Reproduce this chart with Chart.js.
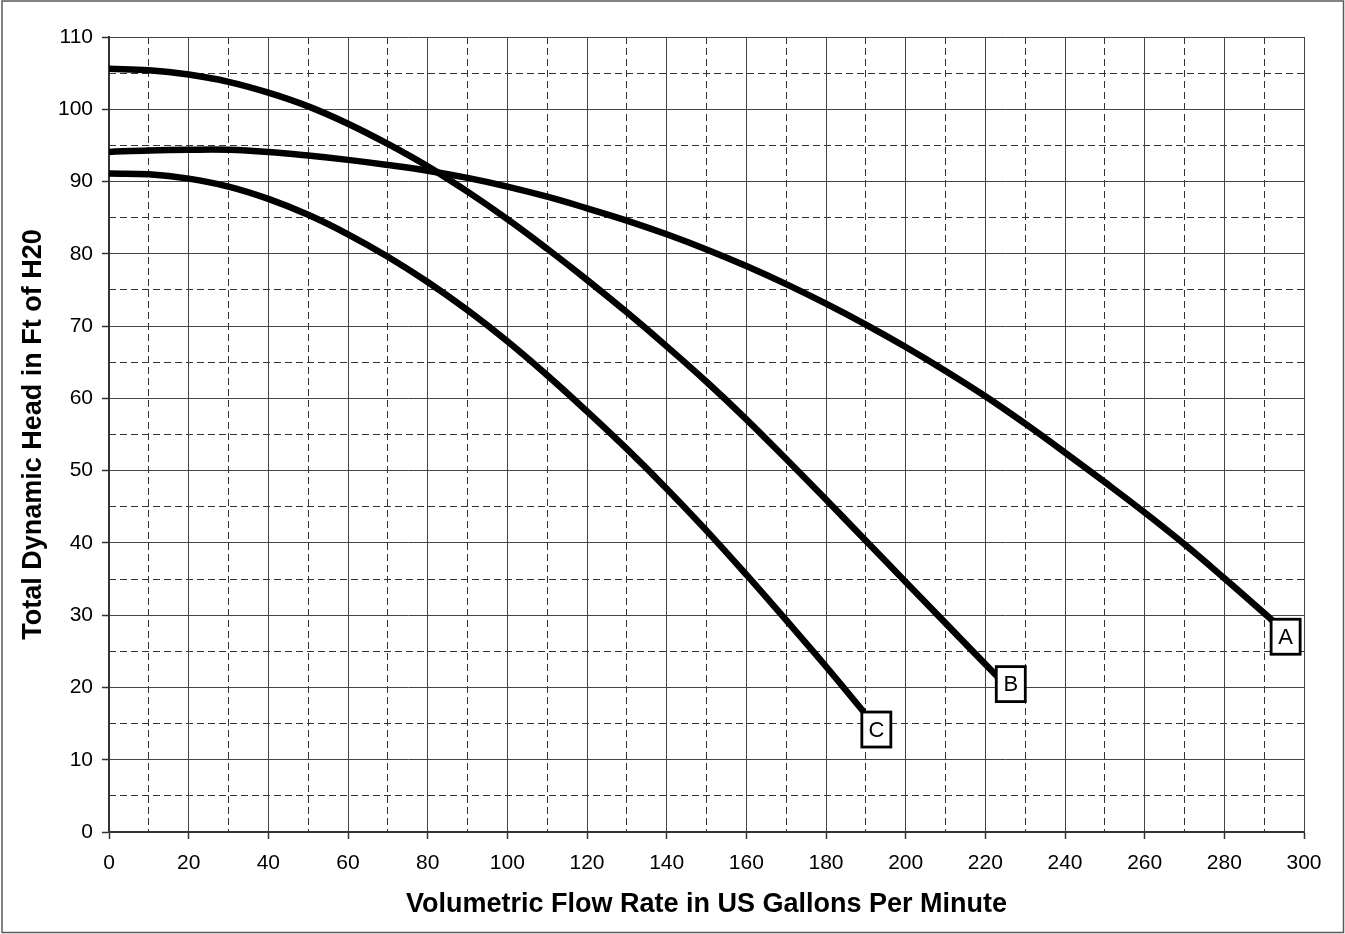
<!DOCTYPE html>
<html>
<head>
<meta charset="utf-8">
<script src="https://cdn.jsdelivr.net/npm/chart.js@4"></script>
<style>
  html, body { margin: 0; padding: 0; background: #fff; }
  #wrap { width: 1345px; height: 934px; position: relative; }
  canvas { display: block; }
</style>
</head>
<body>
<div id="wrap"><canvas id="c" width="1345" height="934"></canvas></div>
<script>
// ---- data ----
const curveNames = ['A', 'B', 'C'];

const flowA = [0,10,20,30,40,50,60,70,80,90,100,110,120,130,140,150,160,170,180,190,200,210,220,230,240,250,260,270,280,292];
const headA = [94.1,94.3,94.4,94.4,94.1,93.6,93.0,92.3,91.5,90.5,89.3,87.9,86.3,84.6,82.7,80.6,78.3,75.8,73.1,70.2,67.1,63.8,60.3,56.5,52.5,48.4,44.2,39.8,35.1,29.3];

const flowB = [0,10,20,30,40,50,60,70,80,90,100,110,120,130,140,150,160,170,180,190,200,210,223];
const headB = [105.6,105.4,104.8,103.8,102.3,100.4,98.0,95.2,92.1,88.6,84.8,80.7,76.4,71.9,67.2,62.3,57.1,51.6,46.0,40.3,34.6,28.9,21.5];

const flowC = [0,10,20,30,40,50,60,70,80,90,100,110,120,130,140,150,160,170,180,189.5];
const headC = [91.1,91.0,90.4,89.3,87.6,85.4,82.7,79.6,76.1,72.2,67.9,63.2,58.2,53.0,47.5,41.7,35.6,29.3,22.9,16.6];

const xTitle = 'Volumetric Flow Rate in US Gallons Per Minute';
const yTitle = 'Total Dynamic Head in Ft of H20';

// ---- chart ----
const FONT = "'Liberation Sans', Arial, Helvetica, sans-serif";
const pairs = (xs, ys) => xs.map((x, i) => ({ x: x, y: ys[i] }));

const series = [pairs(flowA, headA), pairs(flowB, headB), pairs(flowC, headC)];

const labelOffsets = [{dx: -1, dy: -1}, {dx: -1, dy: -10}, {dx: -2, dy: 0}];

const frame = {
  id: 'frame',
  beforeDraw(chart) {
    const ctx = chart.ctx;
    ctx.save();
    ctx.fillStyle = '#fff';
    ctx.fillRect(0, 0, chart.width, chart.height);
    ctx.strokeStyle = '#5a5a5a';
    ctx.lineWidth = 1.5;
    ctx.strokeRect(2, 1, chart.width - 3.5, chart.height - 2.5);
    ctx.restore();
  }
};

const endLabels = {
  id: 'endLabels',
  afterDatasetsDraw(chart) {
    const ctx = chart.ctx;
    ctx.save();
    chart.data.datasets.forEach((ds, i) => {
      const meta = chart.getDatasetMeta(i);
      const p = meta.data[meta.data.length - 1];
      const off = labelOffsets[i];
      const w = 29, h = 35;
      const x = p.x + off.dx, y = p.y + off.dy;
      ctx.fillStyle = '#fff';
      ctx.fillRect(x, y, w, h);
      ctx.strokeStyle = '#000';
      ctx.lineWidth = 2.8;
      ctx.strokeRect(x, y, w, h);
      ctx.fillStyle = '#000';
      ctx.font = '22px ' + FONT;
      ctx.textAlign = 'center';
      ctx.textBaseline = 'middle';
      ctx.fillText(curveNames[i], x + w / 2, y + h / 2 + 1);
    });
    ctx.restore();
  }
};

const minorColorX = (c) => (c.tick && Math.round(c.tick.value) % 20 === 0) ? 'rgba(0,0,0,0)' : '#333';
const minorColorY = (c) => (c.tick && Math.round(c.tick.value) % 10 === 0) ? 'rgba(0,0,0,0)' : '#333';

new Chart(document.getElementById('c'), {
  type: 'line',
  data: {
    datasets: series.map((d, i) => ({
      label: curveNames[i],
      data: d,
      borderColor: '#000',
      borderWidth: 6.5,
      pointRadius: 0,
      fill: false,
      tension: 0.4,
      borderCapStyle: 'butt',
      borderJoinStyle: 'round'
    }))
  },
  options: {
    responsive: false,
    animation: false,
    devicePixelRatio: 1,
    layout: { padding: { top: 37, right: 41, bottom: 0, left: 0 } },
    plugins: { legend: { display: false }, tooltip: { enabled: false } },
    scales: {
      x2: {
        type: 'linear', position: 'top', min: 0, max: 300,
        ticks: { display: false, stepSize: 10 },
        grid: { color: minorColorX, lineWidth: 1, drawTicks: false },
        border: { display: false, dash: [7, 4] },
        afterFit(s) { s.height = 0; }
      },
      y2: {
        type: 'linear', position: 'right', min: 0, max: 110,
        ticks: { display: false, stepSize: 5 },
        grid: { color: minorColorY, lineWidth: 1, drawTicks: false },
        border: { display: false, dash: [7, 4] },
        afterFit(s) { s.width = 0; }
      },
      x: {
        type: 'linear', position: 'bottom', min: 0, max: 300,
        ticks: { stepSize: 20, color: '#000', padding: 12, font: { family: FONT, size: 21 } },
        grid: { color: '#444', lineWidth: 1, tickLength: 7, tickColor: '#333', tickWidth: 1.5 },
        border: { color: '#333', width: 2 },
        title: {
          display: true, text: xTitle, color: '#000',
          font: { family: FONT, size: 27, weight: 'bold' },
          padding: { top: 0, bottom: 13 }
        },
        afterFit(s) { s.height = 102; }
      },
      y: {
        type: 'linear', position: 'left', min: 0, max: 110,
        ticks: { stepSize: 10, color: '#000', padding: 9, font: { family: FONT, size: 21 } },
        grid: { color: '#444', lineWidth: 1, tickLength: 7, tickColor: '#333', tickWidth: 1.5 },
        border: { color: '#333', width: 2 },
        title: {
          display: true, text: yTitle, color: '#000',
          font: { family: FONT, size: 27, weight: 'bold' },
          padding: { top: 17, bottom: 0 }
        },
        afterFit(s) { s.width = 109; }
      }
    }
  },
  plugins: [frame, endLabels]
});
</script>
</body>
</html>
